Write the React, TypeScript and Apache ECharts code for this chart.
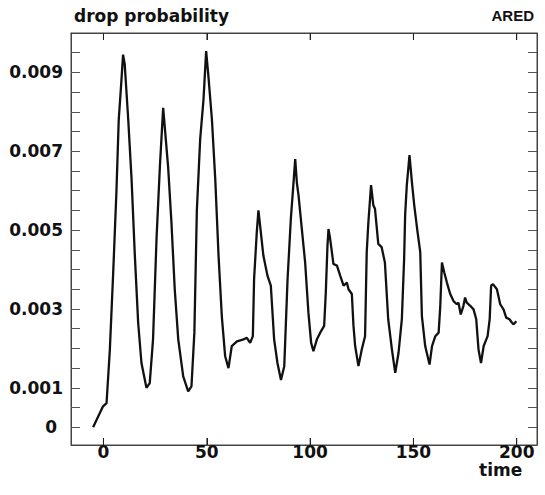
import React, { useEffect, useRef } from "react";
import * as echarts from "echarts";

const times: number[] = [
  -5, -0.2, 1.5, 3.1, 4.7, 6.3, 7.4, 8.7, 9.5, 10.3, 12, 13.6, 15.2, 16.8, 18.4, 20.8, 22.4, 24, 25.7, 27.3,
  28.9, 29.7, 31.3, 32.9, 34.5, 36.2, 38.6, 41, 42.6, 44, 45.2, 46.8, 48.4, 49.7, 50.8, 52.5, 54.1, 55.7, 57.3,
  58.9, 60.5, 62.1, 64.6, 67.8, 69.4, 71, 72.3, 72.9, 74.2, 75, 75.8, 77.4, 79.4, 81, 82.6, 84.2, 85.9, 87.5,
  89.1, 90.7, 91.7, 92.8, 93.6, 94.4, 96, 97.6, 99.2, 100.5, 101.6, 103.3, 104.9, 106.8, 107.6, 108.4, 108.9,
  109.7, 111.3, 113, 114.6, 116.2, 117.8, 118.6, 120.2, 121, 121.8, 123.4, 125, 126.6, 127.4, 128.2, 129.5,
  130.6, 131.4, 133, 134.6, 136.2, 137.8, 139.6, 141.2, 142.8, 144.4, 145.5, 146, 146.8, 148.1, 149.3, 150.4,
  152, 153.3, 154.1, 155.7, 157.8, 159, 160.6, 162.2, 163, 163.8, 164.9, 166.2, 167.8, 169.4, 171, 171.8,
  172.9, 174.2, 175, 175.8, 177.5, 179.1, 180.4, 181.5, 182.7, 184, 185.9, 186.9, 187.6, 188.5, 190.4, 192,
  193.6, 194.9, 196.5, 197.7, 198.5, 199.8,
];

const dropProb: number[] = [
  0.0, 0.00053, 0.00061, 0.00197, 0.0039, 0.006, 0.0078, 0.0088, 0.00945, 0.0092, 0.0078, 0.0063, 0.00435,
  0.00265, 0.00163, 0.001, 0.00112, 0.00223, 0.0048, 0.0066, 0.0081, 0.0076, 0.0066, 0.0052, 0.0035, 0.00223,
  0.00129, 0.00091, 0.00104, 0.0024, 0.0055, 0.0073, 0.0083, 0.00954, 0.0089, 0.0078, 0.0063, 0.00435, 0.0028,
  0.0018, 0.0015, 0.00206, 0.00218, 0.00223, 0.00227, 0.00214, 0.00231, 0.00376, 0.00495, 0.0055, 0.00512,
  0.00435, 0.00384, 0.00359, 0.00223, 0.00163, 0.0012, 0.00155, 0.00376, 0.0053, 0.006, 0.0068, 0.0062,
  0.00588, 0.00503, 0.00418, 0.0029, 0.00214, 0.00193, 0.00223, 0.0024, 0.00257, 0.00342, 0.0046, 0.00503,
  0.00478, 0.00414, 0.0041, 0.00384, 0.00359, 0.00367, 0.0035, 0.00338, 0.00257, 0.00206, 0.00155, 0.00197,
  0.00231, 0.00444, 0.0052, 0.00614, 0.00563, 0.00554, 0.00465, 0.00457, 0.00418, 0.00274, 0.00197, 0.00138,
  0.00189, 0.00274, 0.00427, 0.0054, 0.00614, 0.0069, 0.0062, 0.00563, 0.00495, 0.00444, 0.00282, 0.00206,
  0.00159, 0.00206, 0.00231, 0.0024, 0.00308, 0.00418, 0.00393, 0.00367, 0.00338, 0.0032, 0.00312, 0.00316,
  0.00286, 0.00308, 0.00329, 0.00316, 0.00308, 0.00299, 0.00274, 0.00197, 0.00163, 0.00206, 0.00231, 0.00274,
  0.00359, 0.00363, 0.0035, 0.00312, 0.00299, 0.00278, 0.00274, 0.00265, 0.00261, 0.00269,
];

const xTickLabels: number[] = [0, 50, 100, 150, 200];
const yTickLabels: number[] = [0, 0.001, 0.003, 0.005, 0.007, 0.009];
const yMinorTicks: number[] = [
  0, 0.0005, 0.001, 0.0015, 0.002, 0.0025, 0.003, 0.0035, 0.004, 0.0045, 0.005, 0.0055, 0.006, 0.0065, 0.007,
  0.0075, 0.008, 0.0085, 0.009, 0.0095,
];

const FONT = "DejaVu Sans";
const X_MIN = -15.7;
const X_MAX = 209.8;
const Y_MIN = -0.00045;
const Y_MAX = 0.01;

export default function App() {
  const ref = useRef<HTMLDivElement>(null);
  useEffect(() => {
    if (!ref.current) return;
    const chart = echarts.init(ref.current, null, { renderer: "svg" });
    const frameLine = { show: true, onZero: false, lineStyle: { color: "#444", width: 1, type: "solid" as const } };
    const xTickStyle = { color: "#222", width: 1 };
    const yTickStyle = { color: "#555", width: 1 };
    const labelStyle = { color: "#111", fontFamily: FONT, fontWeight: "bold" as const, fontSize: 17 };
    const tickMarkSeries = (yVal: number, offset: number) => ({
      type: "scatter",
      xAxisIndex: 0,
      yAxisIndex: 0,
      data: xTickLabels.map((v) => [v, yVal]),
      symbol: "rect",
      symbolSize: [1, 7],
      symbolOffset: [0, offset],
      itemStyle: { color: "#222" },
      clip: false,
      silent: true,
      z: 5,
    });
    chart.setOption({
      animation: false,
      backgroundColor: "#fff",
      grid: { show: true, left: 71, right: 8, top: 33, bottom: 50, containLabel: false, borderColor: "#444", borderWidth: 1, backgroundColor: "transparent" },
      xAxis: [
        {
          type: "value",
          position: "bottom",
          min: X_MIN,
          max: X_MAX,
          axisLine: frameLine,
          axisTick: { show: true, inside: true, length: 7, customValues: xTickLabels, lineStyle: xTickStyle },
          axisLabel: { show: true, margin: 1, lineHeight: 12, customValues: xTickLabels, ...labelStyle },
          splitLine: { show: false },
        },
        {
          type: "value",
          position: "top",
          min: X_MIN,
          max: X_MAX,
          axisLine: frameLine,
          axisTick: { show: true, inside: true, length: 7, customValues: xTickLabels, lineStyle: xTickStyle },
          axisLabel: { show: false },
          splitLine: { show: false },
        },
      ],
      yAxis: [
        {
          type: "value",
          position: "left",
          min: Y_MIN,
          max: Y_MAX,
          axisLine: frameLine,
          axisTick: { show: true, inside: true, length: 9, customValues: yMinorTicks, lineStyle: yTickStyle },
          axisLabel: {
            show: true,
            margin: 8,
            customValues: yTickLabels,
            formatter: (v: number) => (v === 0 ? "{z|0}" : v.toFixed(3)),
            rich: { z: { ...labelStyle, padding: [0, 6, 0, 0] } },
            ...labelStyle,
          },
          splitLine: { show: false },
        },
        {
          type: "value",
          position: "right",
          min: Y_MIN,
          max: Y_MAX,
          axisLine: frameLine,
          axisTick: { show: true, inside: true, length: 9, customValues: yMinorTicks, lineStyle: yTickStyle },
          axisLabel: { show: false },
          splitLine: { show: false },
        },
      ],
      graphic: [
        {
          type: "text",
          left: 74,
          top: 7,
          style: { text: "drop probability", fill: "#111", font: `bold 17px "${FONT}"` },
        },
        {
          type: "text",
          right: 11,
          top: 8,
          style: { text: "ARED", fill: "#111", font: `bold 15px "Liberation Sans"` },
        },
        {
          type: "text",
          left: 479,
          top: 461,
          style: { text: "time", fill: "#111", font: `bold 17px "${FONT}"` },
        },
      ],
      series: [
        {
          type: "line",
          xAxisIndex: 0,
          yAxisIndex: 0,
          data: times.map((t, i) => [t, dropProb[i]]),
          showSymbol: false,
          symbol: "none",
          lineStyle: { color: "#111", width: 2.3 },
          silent: true,
        },
        tickMarkSeries(Y_MIN, -3.5),
        tickMarkSeries(Y_MAX, 3.5),
      ],
    });
    return () => chart.dispose();
  }, []);
  return <div ref={ref} style={{ position: "fixed", left: 0, top: 0, width: 545, height: 495 }} />;
}
